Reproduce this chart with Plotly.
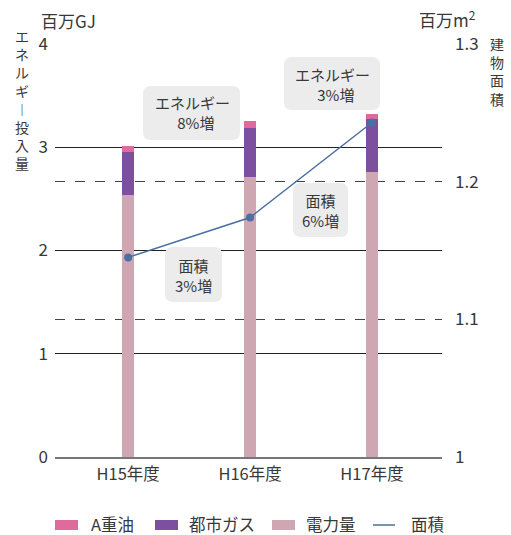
import plotly.graph_objects as go

# ---- data ----
years = ["H15年度", "H16年度", "H17年度"]
electricity = [2.54, 2.71, 2.76]   # 電力量 (百万GJ)
city_gas = [0.41, 0.48, 0.51]      # 都市ガス (百万GJ)
oil_a = [0.065, 0.06, 0.05]        # A重油 (百万GJ)
area = [1.145, 1.174, 1.243]       # 面積 (百万m2)
left_ticks = [0, 1, 2, 3, 4]
right_ticks = [1.0, 1.1, 1.2, 1.3]
right_tick_text = ["1", "1.1", "1.2", "1.3"]
series_names = ["A重油", "都市ガス", "電力量", "面積"]

FONT = "Noto Sans CJK JP, Noto Sans, sans-serif"
TXT = "#383838"
C_OIL, C_GAS, C_ELEC, C_AREA = "#df6b9d", "#7c509f", "#cea7b3", "#4a6fa2"
W, H = 511, 535
L, R, T, B = 55, 69, 44, 78
PW, PH = W - L - R, H - T - B

def px(x):
    return (x - L) / PW

def py(y):
    return (H - B - y) / PH

xpos = list(range(len(years)))

fig = go.Figure()
fig.add_trace(go.Bar(x=xpos, y=electricity, name=series_names[2], marker_color=C_ELEC,
                     width=0.1, marker_line_width=0))
fig.add_trace(go.Bar(x=xpos, y=city_gas, name=series_names[1], marker_color=C_GAS,
                     width=0.1, marker_line_width=0))
fig.add_trace(go.Bar(x=xpos, y=oil_a, name=series_names[0], marker_color=C_OIL,
                     width=0.1, marker_line_width=0))
fig.add_trace(go.Scatter(x=xpos, y=area, name=series_names[3], yaxis="y2", mode="lines+markers",
                         line=dict(color=C_AREA, width=1.5),
                         marker=dict(size=8, color=C_AREA)))

def rrect(x0, y0, x1, y1, r=8):
    def P(x, y):
        return f"{px(x):.5f},{py(y):.5f}"
    return (f"M{P(x0 + r, y0)} L{P(x1 - r, y0)} Q{P(x1, y0)} {P(x1, y0 + r)} "
            f"L{P(x1, y1 - r)} Q{P(x1, y1)} {P(x1 - r, y1)} "
            f"L{P(x0 + r, y1)} Q{P(x0, y1)} {P(x0, y1 - r)} "
            f"L{P(x0, y0 + r)} Q{P(x0, y0)} {P(x0 + r, y0)} Z")

boxes = [
    ((143, 86, 240, 140), (192, 113), "エネルギー<br>  8%増"),
    ((284, 57, 380, 110), (332, 84), "エネルギー<br>  3%増"),
    ((165, 247, 222, 302), (193, 275), "面積<br>3%増"),
    ((293, 183, 348, 237), (320, 210), "面積<br>6%増"),
]
shapes = []
annotations = []
for (x0, y0, x1, y1), (cx, cy), txt in boxes:
    shapes.append(dict(type="path", path=rrect(x0, y0, x1, y1), xref="paper", yref="paper",
                       fillcolor="#ebeceb", line=dict(width=0), layer="above"))
    annotations.append(dict(x=px(cx), y=py(cy), xref="paper", yref="paper", text=txt,
                            showarrow=False, font=dict(size=15, color=TXT, family=FONT),
                            align="center", xanchor="center", yanchor="middle"))

# unit labels
annotations.append(dict(x=px(68), y=py(20), xref="paper", yref="paper", text="百万GJ",
                        showarrow=False, xanchor="center", yanchor="middle",
                        font=dict(size=17, color=TXT, family=FONT)))
annotations.append(dict(x=px(447), y=py(19), xref="paper", yref="paper", text="百万m<sup>2</sup>",
                        showarrow=False, xanchor="center", yanchor="middle",
                        font=dict(size=17, color=TXT, family=FONT)))

# vertical axis titles
left_title = "エネルギー投入量".replace("ー", "︱")
annotations.append(dict(x=px(22), y=py(100), xref="paper", yref="paper",
                        text="<br>".join(left_title), showarrow=False,
                        xanchor="center", yanchor="middle", align="center", borderpad=0,
                        font=dict(size=14, color=TXT, family=FONT)))
annotations.append(dict(x=px(497), y=py(71), xref="paper", yref="paper",
                        text="<br>".join("建物面積"), showarrow=False,
                        xanchor="center", yanchor="middle", align="center", borderpad=0,
                        font=dict(size=14, color=TXT, family=FONT)))

# custom legend
leg_y = 524
leg_items = [
    (series_names[0], C_OIL, "rect", 55, 90),
    (series_names[1], C_GAS, "rect", 155, 188),
    (series_names[2], C_ELEC, "rect", 272, 305),
    (series_names[3], C_AREA, "line", 373, 410),
]
for name, col, kind, sx, tx in leg_items:
    if kind == "rect":
        shapes.append(dict(type="rect", xref="paper", yref="paper",
                           x0=px(sx), x1=px(sx + 23), y0=py(leg_y - 4), y1=py(leg_y + 6),
                           fillcolor=col, line=dict(width=0)))
    else:
        shapes.append(dict(type="line", xref="paper", yref="paper",
                           x0=px(sx), x1=px(sx + 22), y0=py(leg_y + 1), y1=py(leg_y + 1),
                           line=dict(color=col, width=1.5)))
    annotations.append(dict(x=px(tx), y=py(leg_y), xref="paper", yref="paper", text=name,
                            showarrow=False, xanchor="left", yanchor="middle", borderpad=0,
                            font=dict(size=16.5, color=TXT, family=FONT)))

fig.update_layout(
    width=W, height=H,
    margin=dict(l=L, r=R, t=T, b=B, autoexpand=False),
    paper_bgcolor="white", plot_bgcolor="white",
    barmode="stack", bargap=0,
    font=dict(family=FONT, color=TXT, size=15),
    showlegend=False,
    xaxis=dict(range=[-0.6, 2.574], tickvals=xpos, ticktext=years, showgrid=False,
               zeroline=False, showline=True, linecolor="#777777", linewidth=2,
               ticks="", tickfont=dict(size=16.5, color=TXT), ticklabelstandoff=1,
               automargin=False),
    yaxis=dict(range=[0, 4], tickvals=left_ticks, showgrid=True, gridcolor="#222222",
               gridwidth=1.3, zeroline=False, ticks="", tickfont=dict(size=17, color=TXT),
               ticklabelstandoff=6, automargin=False),
    yaxis2=dict(range=[1.0, 1.3], tickvals=right_ticks, ticktext=right_tick_text,
                overlaying="y", side="right", showgrid=True, gridcolor="#444444",
                gridwidth=1.2, griddash="10px,10px", zeroline=False, ticks="",
                tickfont=dict(size=17, color=TXT), ticklabelstandoff=12, automargin=False),
    shapes=shapes,
    annotations=annotations,
)

fig.write_html("out.html")
